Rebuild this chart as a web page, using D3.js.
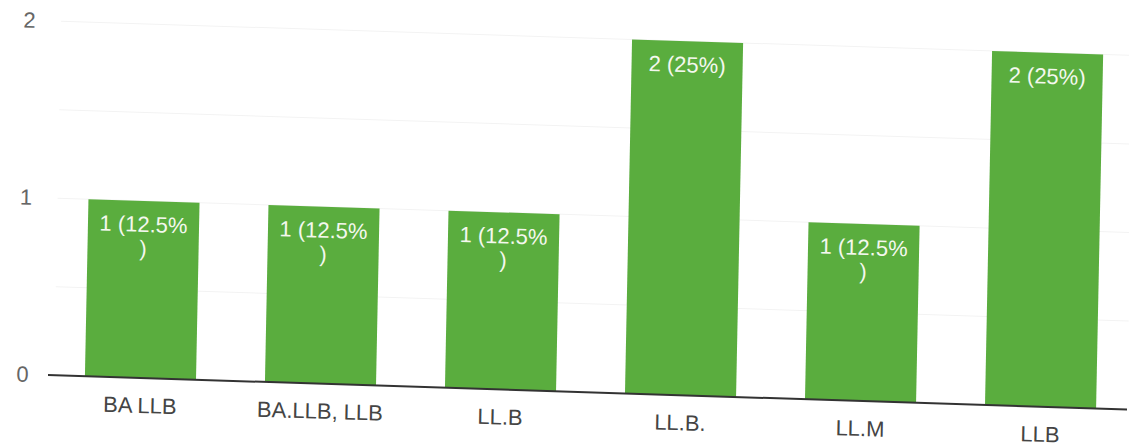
<!DOCTYPE html>
<html>
<head>
<meta charset="utf-8">
<script src="https://cdn.jsdelivr.net/npm/d3@7"></script>
<style>
  html, body { margin: 0; padding: 0; background: #fff; }
  svg { display: block; }
  text { font-family: "Liberation Sans", Arial, sans-serif; }
</style>
</head>
<body>
<svg id="chart" width="1129" height="448"></svg>
<script>
const categories = ["BA LLB", "BA.LLB, LLB", "LL.B", "LL.B.", "LL.M", "LLB"];
const counts = [1, 1, 1, 2, 1, 2];
const valueLabels = [["1 (12.5%", ")"], ["1 (12.5%", ")"], ["1 (12.5%", ")"], ["2 (25%)"], ["1 (12.5%", ")"], ["2 (25%)"]];
const yTicks = [0, 1, 2];
const gridValues = [0.5, 1, 1.5, 2];

const svg = d3.select("#chart");
const plotLeft = 48, plotRight = 1127, plotBase = 375, plotTop = 21;

// slight skew/rotation of the photographed page
const g = svg.append("g")
  .attr("transform", `translate(${plotLeft},${plotBase}) matrix(1,0.032,-0.02,1,0,0) translate(${-plotLeft},${-plotBase})`);

const x = d3.scaleBand().domain(categories).range([50, 1131]).paddingInner(0.383).paddingOuter(0.194);
const y = d3.scaleLinear().domain([0, 2]).range([plotBase, plotTop]);

// faint gridlines
g.selectAll("line.grid").data(gridValues).join("line")
  .attr("class", "grid")
  .attr("x1", plotLeft + 6).attr("x2", plotRight)
  .attr("y1", d => y(d)).attr("y2", d => y(d))
  .attr("stroke", "#f3f3f3").attr("stroke-width", 1);

// y axis tick labels
const yAxis = d3.axisLeft(y).tickValues(yTicks).tickSize(0).tickPadding(0).tickFormat(d3.format("d"));
const ya = g.append("g").attr("transform", `translate(${plotLeft - 26},0)`).call(yAxis);
ya.select(".domain").remove();
ya.selectAll("text").attr("font-size", 22).attr("fill", "#666").attr("font-family", "Liberation Sans, Arial, sans-serif").attr("text-anchor", "end").attr("dx", "0.3em");

// bars
g.selectAll("rect.bar").data(categories).join("rect")
  .attr("class", "bar")
  .attr("x", d => x(d))
  .attr("width", x.bandwidth())
  .attr("y", (d, i) => y(counts[i]))
  .attr("height", (d, i) => y(0) - y(counts[i]))
  .attr("fill", "#5aad3e");

// baseline
g.append("line")
  .attr("x1", plotLeft).attr("x2", plotRight)
  .attr("y1", y(0)).attr("y2", y(0))
  .attr("stroke", "#333").attr("stroke-width", 2);

// value labels
categories.forEach((c, i) => {
  const t = g.append("text")
    .attr("x", x(c) + x.bandwidth() / 2)
    .attr("y", y(counts[i]) + 31)
    .attr("text-anchor", "middle")
    .attr("font-size", 22)
    .attr("fill", "#f4f8ee");
  valueLabels[i].forEach((line, k) => {
    t.append("tspan")
      .attr("x", x(c) + x.bandwidth() / 2)
      .attr("dy", k === 0 ? 0 : 24)
      .text(line);
  });
});

// x axis category labels
const xAxis = d3.axisBottom(x).tickSize(0).tickPadding(0);
const xa = g.append("g").attr("transform", `translate(0,${plotBase + 35})`).call(xAxis);
xa.select(".domain").remove();
xa.selectAll("text").attr("font-size", 22).attr("fill", "#444").attr("font-family", "Liberation Sans, Arial, sans-serif").attr("dy", 0);
</script>
</body>
</html>
